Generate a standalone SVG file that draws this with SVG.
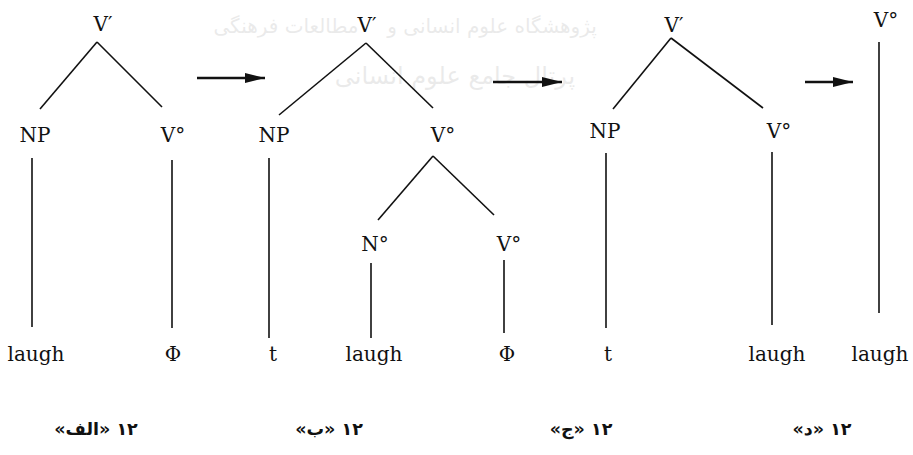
<svg xmlns="http://www.w3.org/2000/svg" width="913" height="455" viewBox="0 0 913 455">
<style>
.lbl{font-family:"DejaVu Serif","Liberation Serif",serif;font-size:20px;fill:#111;text-anchor:middle}
.edge{stroke:#111;stroke-width:1.6;fill:none}
.arr{stroke:#111;stroke-width:2.6;fill:none}
.cap{font-family:"DejaVu Sans",sans-serif;font-size:17.5px;font-weight:bold;fill:#111;text-anchor:middle}
.wm{font-family:"DejaVu Sans",sans-serif;fill:#000;opacity:0.08;text-anchor:middle}
</style>
<defs>
<marker id="ah" viewBox="0 0 20 10" refX="20" refY="5" markerWidth="20" markerHeight="10" markerUnits="userSpaceOnUse" orient="auto">
<path d="M0,0 L20,5 L0,10 Z" fill="#111"/>
</marker>
</defs>
<rect width="913" height="455" fill="#fff"/>
<g id="watermark">
<text class="wm" x="492" y="33" font-size="20" direction="rtl">پژوهشگاه علوم انسانی و</text>
<text class="wm" x="286" y="33" font-size="20" direction="rtl">مطالعات فرهنگی</text>
<text class="wm" x="455" y="84" font-size="24" direction="rtl">پرتال جامع علوم انسانی</text>
</g>
<g id="connectors">
<!-- tree 1 -->
<line class="edge" x1="97" y1="42" x2="40" y2="109"/>
<line class="edge" x1="97" y1="42" x2="162" y2="107"/>
<line class="edge" x1="32" y1="158" x2="32" y2="327"/>
<line class="edge" x1="172" y1="160" x2="172" y2="328"/>
<!-- tree 2 -->
<line class="edge" x1="366" y1="43" x2="279" y2="115"/>
<line class="edge" x1="366" y1="43" x2="433" y2="108"/>
<line class="edge" x1="433" y1="156" x2="378" y2="220"/>
<line class="edge" x1="433" y1="156" x2="494" y2="215"/>
<line class="edge" x1="269" y1="158" x2="269" y2="338"/>
<line class="edge" x1="371" y1="263" x2="371" y2="338"/>
<line class="edge" x1="504" y1="260" x2="504" y2="333"/>
<!-- tree 3 -->
<line class="edge" x1="671" y1="38" x2="613" y2="109"/>
<line class="edge" x1="671" y1="38" x2="763" y2="108"/>
<line class="edge" x1="606" y1="153" x2="606" y2="328"/>
<line class="edge" x1="772" y1="152" x2="772" y2="325"/>
<!-- tree 4 -->
<line class="edge" x1="879" y1="42" x2="879" y2="313"/>
<!-- derivation arrows -->
<line class="arr" x1="197" y1="78" x2="265" y2="78" marker-end="url(#ah)"/>
<line class="arr" x1="493" y1="82" x2="562" y2="82" marker-end="url(#ah)"/>
<line class="arr" x1="805" y1="82" x2="853" y2="82" marker-end="url(#ah)"/>
</g>
<g id="tree1">
<text class="lbl" x="103" y="31">V′</text>
<text class="lbl" x="35" y="142">NP</text>
<text class="lbl" x="173" y="142">V°</text>
<text class="lbl" x="36" y="361">laugh</text>
<text class="lbl" x="173" y="361">Φ</text>
<text class="cap" x="96" y="435" direction="rtl">۱۲ «الف»</text>
</g>
<g id="tree2">
<text class="lbl" x="367" y="32">V′</text>
<text class="lbl" x="274" y="142">NP</text>
<text class="lbl" x="443" y="142">V°</text>
<text class="lbl" x="375" y="251">N°</text>
<text class="lbl" x="509" y="251">V°</text>
<text class="lbl" x="273" y="361">t</text>
<text class="lbl" x="374" y="361">laugh</text>
<text class="lbl" x="507" y="361">Φ</text>
<text class="cap" x="329" y="435" direction="rtl">۱۲ «ب»</text>
</g>
<g id="tree3">
<text class="lbl" x="674" y="32">V′</text>
<text class="lbl" x="605" y="138">NP</text>
<text class="lbl" x="779" y="138">V°</text>
<text class="lbl" x="608" y="361">t</text>
<text class="lbl" x="777" y="361">laugh</text>
<text class="cap" x="581" y="435" direction="rtl">۱۲ «ج»</text>
</g>
<g id="tree4">
<text class="lbl" x="886" y="27">V°</text>
<text class="lbl" x="880" y="361">laugh</text>
<text class="cap" x="822" y="435" direction="rtl">۱۲ «د»</text>
</g>
</svg>
